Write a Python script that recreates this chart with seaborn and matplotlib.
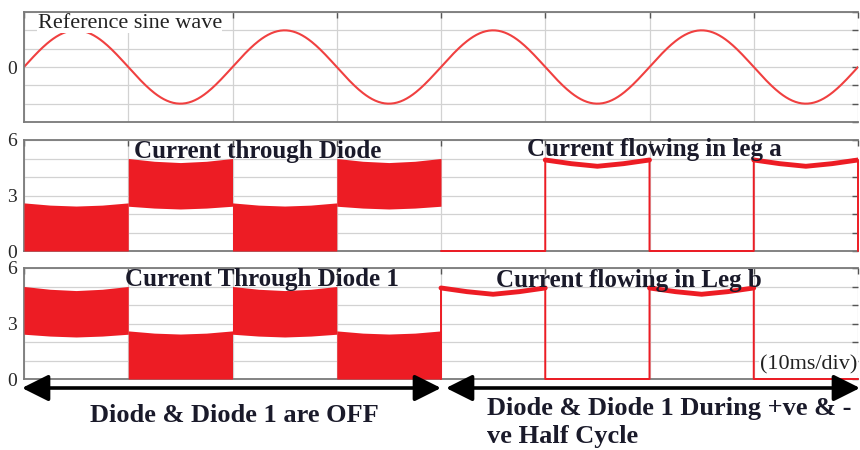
import numpy as np
import matplotlib
matplotlib.use("Agg")
import matplotlib.pyplot as plt
import seaborn as sns

# time axis: 8 divisions of 10 ms
t_end_ms = 80
half_cycle_ms = 10

# reference sine wave
sine_amplitude = 2.0
sine_period_ms = 20

# sample points inside one 10 ms half cycle
half_t = [0, 2.5, 5, 7.5, 10]
low_band_top = [2.6, 2.48, 2.43, 2.48, 2.6]
high_band_top = [5.0, 4.85, 4.78, 4.85, 5.0]
high_band_bottom = [2.42, 2.32, 2.27, 2.32, 2.42]
leg_on_level = [4.92, 4.72, 4.58, 4.72, 4.92]

# state per half cycle: 0-40 ms diode current, 40-80 ms leg current
diode_states = ["low", "high", "low", "high"]
leg_a_states = ["off", "on", "off", "on"]
diode1_states = ["high", "low", "high", "low"]
leg_b_states = ["on", "off", "on", "off"]

RED = "#ed1c24"
SINE_RED = "#f04040"
GRID = "#d2d2d2"
FRAME = "#7a7a7a"
INK = "#1a1a2a"

sns.set_style("white")
plt.rcParams["font.family"] = ["Liberation Serif", "DejaVu Serif"]

fig = plt.figure(figsize=(8.6, 4.5), dpi=100)
W, H = 860, 450


def px_axes(left, top, right, bottom):
    return fig.add_axes([left / W, 1 - bottom / H, (right - left) / W, (bottom - top) / H])


def style_axes(ax, yticks, labels):
    ax.set_xlim(0, t_end_ms)
    ax.set_ylim(yticks[0], yticks[-1])
    ax.set_xticks(range(0, t_end_ms + 1, 10))
    ax.set_xticklabels([])
    ax.set_yticks(yticks)
    ax.set_yticklabels(labels)
    ax.grid(True, color=GRID, lw=0.9)
    ax.set_axisbelow(True)
    ax.tick_params(direction="in", length=4, width=1, color="#555555",
                   top=True, right=True, labelsize=14, pad=5)
    for side in ["left", "bottom", "top"]:
        ax.spines[side].set_color(FRAME)
        ax.spines[side].set_linewidth(1.3)
    ax.spines["right"].set_visible(False)
    ax.set_xlabel("")
    ax.set_ylabel("")


def draw_diode(ax, states):
    for i, s in enumerate(states):
        t = np.array(half_t) + i * half_cycle_ms
        if s == "low":
            lo, hi = np.zeros(len(t)), low_band_top
        else:
            lo, hi = high_band_bottom, high_band_top
        ax.fill_between(t, lo, hi, color=RED, lw=0, zorder=3)


def draw_leg(ax, states, t0):
    xs, ys = [], []
    for i, s in enumerate(states):
        t = [t0 + i * half_cycle_ms + v for v in half_t]
        if s == "on":
            xs += [t[0]] + t + [t[-1]]
            ys += [0] + leg_on_level + [0]
        else:
            xs += [t[0], t[-1]]
            ys += [0, 0]
    sns.lineplot(x=xs, y=ys, ax=ax, color=RED, lw=1.4, sort=False,
                 estimator=None, clip_on=False, zorder=4)
    for i, s in enumerate(states):
        if s == "on":
            t = [t0 + i * half_cycle_ms + v for v in half_t]
            sns.lineplot(x=t, y=leg_on_level, ax=ax, color=RED, lw=3.5,
                         sort=False, estimator=None, zorder=4)


box = dict(facecolor="white", edgecolor="none", pad=0.5)

# panel 1: reference sine
ax1 = px_axes(24, 12, 858, 122)
t = np.linspace(0, t_end_ms, 801)
sns.lineplot(x=t, y=sine_amplitude * np.sin(2 * np.pi * t / sine_period_ms),
             ax=ax1, color=SINE_RED, lw=1.5)
style_axes(ax1, list(range(-3, 4)), ["", "", "", "0", "", "", ""])
ax1.text(1.3, 2.4, "Reference sine wave", fontsize=16, va="center",
         ha="left", color="#222222", bbox=box)

# panel 2: diode / leg a
ax2 = px_axes(24, 140, 858, 251)
draw_diode(ax2, diode_states)
draw_leg(ax2, leg_a_states, 40)
style_axes(ax2, list(range(0, 7)), ["0", "", "", "3", "", "", "6"])
ax2.text(22.4, 5.4, "Current through Diode", fontsize=18, fontweight="bold",
         ha="center", va="center", color=INK, zorder=6)
ax2.text(60.5, 5.5, "Current flowing in leg a", fontsize=18, fontweight="bold",
         ha="center", va="center", color=INK, zorder=6)

# panel 3: diode 1 / leg b
ax3 = px_axes(24, 268, 858, 379)
draw_diode(ax3, diode1_states)
draw_leg(ax3, leg_b_states, 40)
style_axes(ax3, list(range(0, 7)), ["0", "", "", "3", "", "", "6"])
ax3.text(22.8, 5.4, "Current Through Diode 1", fontsize=18, fontweight="bold",
         ha="center", va="center", color=INK, zorder=6)
ax3.text(58.0, 5.3, "Current flowing in Leg b", fontsize=18, fontweight="bold",
         ha="center", va="center", color=INK, zorder=6)
ax3.text(79.9, 0.75, "(10ms/div)", fontsize=16, ha="right", va="center",
         color="#222222", bbox=box, zorder=6)

# arrows and annotations below
arrow = dict(arrowstyle="<|-|>,head_length=0.9,head_width=0.45", color="black",
             lw=2.6, shrinkA=0, shrinkB=0, mutation_scale=18)
fig.add_artist(plt.Annotation("", xy=(441, 62), xytext=(22, 62),
                              xycoords="figure pixels", arrowprops=arrow))
fig.add_artist(plt.Annotation("", xy=(860, 62), xytext=(446, 62),
                              xycoords="figure pixels", arrowprops=arrow))
fig.text(234 / W, 35 / H, "Diode & Diode 1 are OFF", fontsize=19,
         fontweight="bold", ha="center", va="center", color=INK)
fig.text(487 / W, 41 / H, "Diode & Diode 1 During +ve & -", fontsize=19,
         fontweight="bold", ha="left", va="center", color=INK)
fig.text(487 / W, 13 / H, "ve Half Cycle", fontsize=19,
         fontweight="bold", ha="left", va="center", color=INK)

fig.savefig("out.png", dpi=100)
